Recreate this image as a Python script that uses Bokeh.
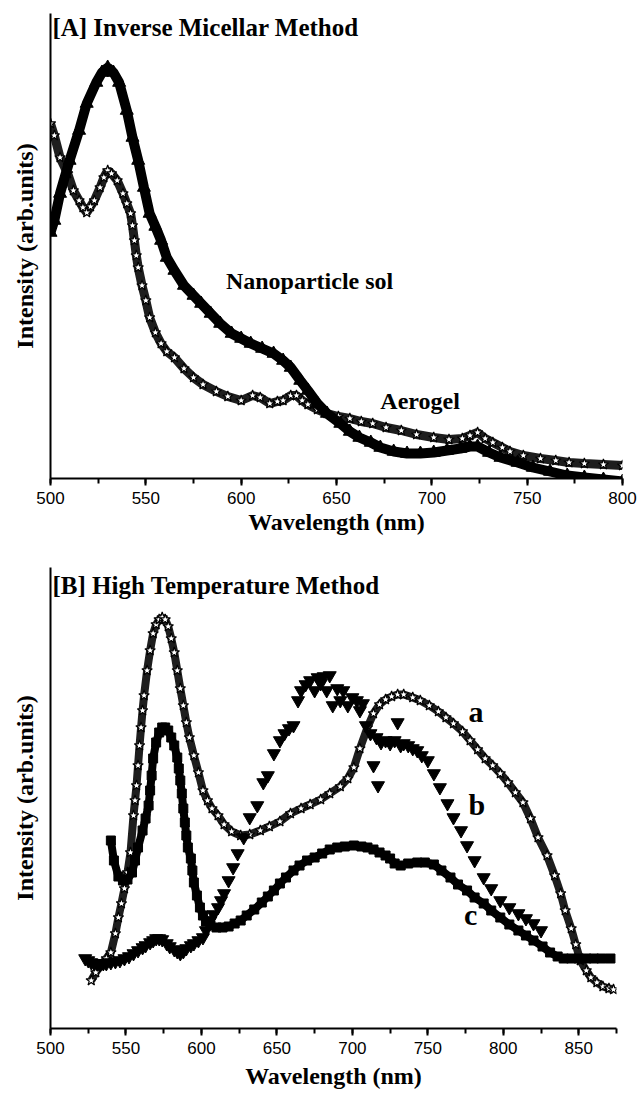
from bokeh.plotting import figure
from bokeh.models import Label, SingleIntervalTicker, FixedTicker, Range1d
from bokeh.layouts import column
from bokeh.embed import file_html
from bokeh.resources import INLINE

# ---------------- Panel A data (wavelength nm, intensity arb.) ----------------
a_sol_x = [500, 502, 505, 510, 515, 519, 524, 527, 530, 533, 536, 540, 543, 546, 549, 552, 555, 558, 561, 565,
           570, 575, 579, 584, 589, 595, 600, 605, 611, 617, 622, 626, 631, 635, 640, 645, 652, 657, 662, 668,
           673, 680, 687, 694, 701, 708, 715, 720, 724, 730, 736, 745, 753, 762, 771, 780, 790, 800]
a_sol_y = [246, 258, 285, 318, 348, 375, 396, 406, 411, 406, 396, 368, 341, 318, 291, 265, 252, 238, 221, 208,
           193, 183, 175, 165, 155, 145, 140, 135, 130, 125, 118, 111, 98, 88, 75, 65, 55, 47, 41, 36,
           31, 27, 25, 25, 26, 28, 30, 32, 32, 26, 21, 16, 11, 7, 3, 1, -1, -3]

a_gel_x = [500, 502, 505, 509, 512, 515, 517, 519, 521, 523, 526, 528, 530, 532, 535, 538, 540, 542, 543, 544,
           545, 546, 548, 550, 552, 555, 558, 561, 565, 570, 575, 580, 587, 593, 600, 606, 610, 615, 619, 622,
           626, 629, 632, 635, 640, 645, 651, 657, 663, 669, 676, 684, 692, 701, 709, 716, 720, 724, 728, 732,
           737, 741, 748, 757, 765, 772, 780, 790, 800]
a_gel_y = [355, 343, 321, 305, 288, 278, 271, 266, 272, 278, 291, 301, 308, 305, 298, 285, 275, 265, 253, 238,
           223, 211, 193, 178, 161, 146, 135, 127, 121, 110, 101, 94, 87, 82, 78, 83, 81, 75, 77, 78,
           83, 83, 78, 74, 69, 65, 62, 60, 57, 55, 51, 48, 44, 41, 39, 40, 43, 46, 40, 36,
           31, 27, 23, 20, 18, 16, 15, 14, 13]

# ---------------- Panel B data ----------------
b_a_x = [527, 530, 533, 537, 540, 543, 545, 547, 549, 551, 553, 555, 556, 557, 558, 559, 560, 561, 562, 564,
         566, 568, 570, 572, 574, 576, 578, 580, 582, 584, 586, 588, 590, 592, 595, 598, 601, 604, 607, 611,
         615, 620, 626, 632, 639, 645, 652, 659, 666, 672, 679, 685, 692, 697, 701, 705, 710, 714, 718, 722,
         726, 730, 734, 740, 745, 751, 757, 762, 767, 773, 778, 783, 788, 793, 798, 803, 808, 813, 818, 823,
         829, 834, 838, 841, 845, 848, 851, 855, 858, 862, 866, 870, 873]
b_a_y = [48, 56, 63, 70, 76, 95, 111, 125, 140, 156, 176, 213, 228, 243, 263, 283, 301, 318, 333, 358,
         378, 395, 404, 409, 411, 409, 402, 390, 376, 358, 340, 323, 306, 291, 273, 256, 238, 228, 220, 213,
         204, 197, 193, 194, 198, 202, 207, 215, 220, 224, 229, 235, 242, 250, 261, 280, 301, 315, 324, 329,
         332, 334, 334, 331, 328, 323, 317, 311, 305, 297, 288, 279, 270, 263, 255, 246, 236, 226, 210, 191,
         173, 153, 135, 118, 100, 84, 68, 58, 51, 46, 42, 40, 39]

b_b_x = [523, 525, 527, 529, 531, 533, 535, 537, 540, 543, 546, 549, 552, 555, 558, 561, 563, 566, 568, 570,
         572, 574, 577, 579, 582, 584, 586, 588, 590, 593, 595, 598, 601, 603, 606, 608, 611, 613, 615,
         618, 621, 624, 628, 632, 637, 641, 644, 648, 652, 655, 658, 661, 664, 666, 669, 672, 675, 677, 679,
         681, 683, 685, 687, 690, 692, 694, 697, 700, 703, 705, 707, 709, 712, 714, 716, 717, 719, 722, 725,
         728, 730, 732, 734, 737, 740, 743, 746, 750, 754, 758, 763, 767, 772, 776, 781, 787, 792, 798, 804,
         810, 815, 820, 825]
b_b_y = [70, 68, 66, 65, 65, 64, 65, 65, 66, 67, 68, 70, 72, 75, 78, 81, 83, 86, 88, 90,
         90, 89, 85, 82, 79, 77, 75, 77, 80, 83, 85, 88, 91, 98, 108, 114, 121, 128, 135,
         148, 161, 175, 191, 211, 223, 246, 253, 275, 288, 295, 300, 303, 328, 338, 344, 348, 338, 351, 345,
         352, 338, 353, 323, 340, 328, 338, 323, 331, 328, 318, 325, 303, 295, 263, 291, 243, 286, 288, 285,
         288, 306, 283, 285, 283, 280, 278, 273, 268, 255, 241, 225, 211, 198, 183, 168, 151, 140, 128, 121,
         115, 110, 105, 98]

b_c_x = [540, 542, 545, 548, 551, 554, 556, 558, 561, 563, 565, 566, 567, 568, 570, 572, 574, 576, 578, 580,
         582, 584, 585, 586, 587, 588, 589, 590, 591, 593, 594, 595, 597, 599, 601, 603, 606, 610, 614, 618,
         622, 626, 630, 635, 640, 644, 648, 652, 656, 661, 665, 670, 675, 680, 685, 690, 695, 701, 706, 710,
         714, 718, 722, 725, 728, 732, 737, 743, 748, 754, 759, 765, 770, 776, 781, 787, 792, 798, 804, 810,
         815, 820, 826, 831, 836, 840, 845, 850, 855, 860, 865, 871]
b_c_y = [188, 168, 152, 148, 149, 156, 168, 181, 198, 210, 223, 238, 253, 270, 286, 296, 301, 301, 298, 291,
         283, 271, 260, 248, 235, 220, 206, 193, 181, 170, 158, 146, 133, 121, 113, 107, 103, 101, 101, 102,
         105, 108, 113, 119, 126, 132, 138, 145, 151, 158, 163, 168, 171, 175, 179, 181, 182, 183, 182, 181,
         179, 176, 173, 170, 165, 163, 165, 166, 166, 164, 158, 151, 144, 138, 131, 125, 118, 111, 104, 98,
         93, 88, 82, 76, 72, 70, 70, 70, 70, 70, 70, 70]

# annotation texts and anchor positions (data units)
a_title = "[A] Inverse Micellar Method"
b_title = "[B] High Temperature Method"
a_notes = ["Nanoparticle sol", "Aerogel"]
a_notes_x = [592, 673]
a_notes_y = [185, 65]
b_notes = ["a", "b", "c"]
b_notes_x = [777, 777, 774]
b_notes_y = [301, 208, 98]

SERIF = "Liberation Serif"
SANS = "Liberation Sans"


def style(p, xlabel_standoff):
    p.outline_line_color = None
    p.xgrid.visible = False
    p.ygrid.visible = False
    xa = p.xaxis[0]
    xa.ticker = SingleIntervalTicker(interval=50, num_minor_ticks=2)
    xa.axis_line_width = 2
    xa.axis_line_color = "black"
    xa.major_tick_line_width = 2
    xa.minor_tick_line_width = 2
    xa.major_tick_line_color = "black"
    xa.minor_tick_line_color = "black"
    xa.major_tick_out = 7
    xa.major_tick_in = 0
    xa.minor_tick_out = 5
    xa.minor_tick_in = 0
    xa.major_label_text_font = SANS
    xa.major_label_text_font_size = "17px"
    xa.major_label_text_color = "black"
    xa.major_label_standoff = 6
    xa.axis_label = "Wavelength (nm)"
    xa.axis_label_text_font = SERIF
    xa.axis_label_text_font_style = "bold"
    xa.axis_label_text_font_size = "24px"
    xa.axis_label_text_color = "black"
    xa.axis_label_standoff = xlabel_standoff
    ya = p.yaxis[0]
    ya.ticker = FixedTicker(ticks=[])
    ya.axis_line_width = 2
    ya.axis_line_color = "black"
    ya.major_tick_line_color = None
    ya.minor_tick_line_color = None
    ya.axis_label = "Intensity (arb.units)"
    ya.axis_label_text_font = SERIF
    ya.axis_label_text_font_style = "bold"
    ya.axis_label_text_font_size = "24px"
    ya.axis_label_text_color = "black"
    ya.axis_label_standoff = 13


# ---------------- Panel A ----------------
p1 = figure(frame_width=572, frame_height=465, output_backend="svg", toolbar_location=None,
            x_range=Range1d(500, 800), y_range=Range1d(0, 465),
            min_border_left=50, min_border_right=16, min_border_top=13, min_border_bottom=72)
style(p1, 2)
p1.line(a_gel_x, a_gel_y, line_color="#1e1e1e", line_width=9)
p1.scatter(a_gel_x, a_gel_y, marker="star", size=11, fill_color="white", line_color="black", line_width=1.2)
p1.line(a_sol_x, a_sol_y, line_color="black", line_width=10)
p1.scatter(a_sol_x, a_sol_y, marker="triangle", size=13, fill_color="black", line_color="black")
p1.add_layout(Label(x=501, y=438, text=a_title, text_font=SERIF, text_font_style="bold",
                    text_font_size="25px", text_color="black"))
for t, x, y in zip(a_notes, a_notes_x, a_notes_y):
    p1.add_layout(Label(x=x, y=y, text=t, text_font=SERIF, text_font_style="bold",
                        text_font_size="24px", text_color="black"))

# ---------------- Panel B ----------------
p2 = figure(frame_width=566, frame_height=461, output_backend="svg", toolbar_location=None,
            x_range=Range1d(500, 875), y_range=Range1d(0, 461),
            min_border_left=50, min_border_right=22, min_border_top=17, min_border_bottom=65)
style(p2, 6)
p2.line(b_a_x, b_a_y, line_color="#1e1e1e", line_width=8)
p2.scatter(b_a_x, b_a_y, marker="star", size=11, fill_color="white", line_color="black", line_width=1.2)
p2.line(b_c_x, b_c_y, line_color="black", line_width=8)
p2.scatter(b_c_x, b_c_y, marker="square", size=9, fill_color="black", line_color="black")
p2.scatter(b_b_x, b_b_y, marker="inverted_triangle", size=13, fill_color="black", line_color="black")
p2.add_layout(Label(x=501.3, y=430, text=b_title, text_font=SERIF, text_font_style="bold",
                    text_font_size="25px", text_color="black"))
for t, x, y in zip(b_notes, b_notes_x, b_notes_y):
    p2.add_layout(Label(x=x, y=y, text=t, text_font=SERIF, text_font_style="bold",
                        text_font_size="30px", text_color="black"))

layout = column(p1, p2, spacing=0)
open("out.html", "w").write(file_html(layout, INLINE))
